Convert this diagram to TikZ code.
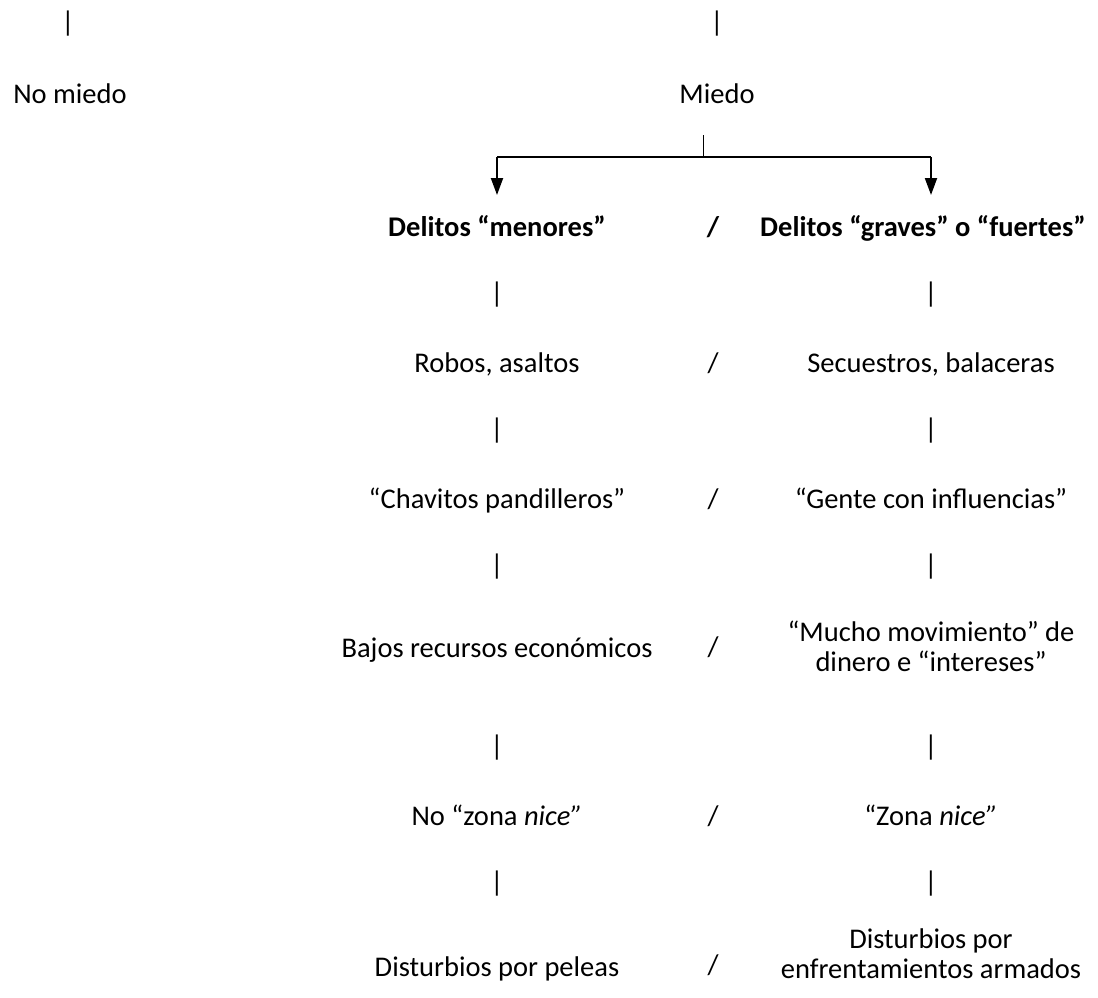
\documentclass[tikz,border=0pt]{standalone}
\usepackage{fontspec}
\setmainfont{Carlito}
\usetikzlibrary{arrows.meta}
\begin{document}
\begin{tikzpicture}[x=1pt,y=-1pt,
  txt/.style={inner sep=0pt,anchor=base,font=\fontsize{28.5}{30}\selectfont,align=center},
  bld/.style={txt,font=\fontsize{28.5}{30}\selectfont\bfseries},
  bar/.style={inner sep=0pt,font=\fontsize{28.5}{30}\selectfont},
  fork/.style={line width=2pt},
  arr/.style={line width=2pt,-{Triangle[width=12pt,length=17pt]}}]
\useasboundingbox (0,0) rectangle (1098,998);
% top
\node[bar] (b0l) at (68,24) {|};
\node[bar] (b0r) at (717,24) {|};
\node[txt] (nomiedo) at (70,103) {No miedo};
\node[txt] (miedo) at (717,103) {Miedo};
\coordinate (s1) at (703,135);
\coordinate (s2) at (703,157);
\coordinate (fl) at (497,157);
\coordinate (fr) at (931,157);
\coordinate (al) at (497,195);
\coordinate (ar) at (931,195);
\draw[line width=0.8pt] (s1) -- (s2);
\draw[fork] (s2) -- (fl);
\draw[fork] (s2) -- (fr);
\draw[arr] (fl) -- (al);
\draw[arr] (fr) -- (ar);
% row 1
\node[bld] (menores) at (497,236) {Delitos “menores”};
\node[bld] (sl1) at (713,236) {/};
\node[bld] (graves) at (923,236) {Delitos “graves” o “fuertes”};
\node[bar] (b1l) at (497,295) {|};
\node[bar] (b1r) at (931,295) {|};
% row 2
\node[txt] (robos) at (497,372) {Robos, asaltos};
\node[txt] (sl2) at (713,372) {/};
\node[txt] (secuestros) at (931,372) {Secuestros, balaceras};
\node[bar] (b2l) at (497,431) {|};
\node[bar] (b2r) at (931,431) {|};
% row 3
\node[txt] (chavitos) at (497,508) {“Chavitos pandilleros”};
\node[txt] (sl3) at (713,508) {/};
\node[txt] (gente) at (931,508) {“Gente con influencias”};
\node[bar] (b3l) at (497,567) {|};
\node[bar] (b3r) at (931,567) {|};
% row 4
\node[txt] (bajos) at (497,657) {Bajos recursos económicos};
\node[txt] (sl4) at (713,656) {/};
\node[txt] (mucho) at (931,671) {“Mucho movimiento” de\\dinero e “intereses”};
\node[bar] (b4l) at (497,748) {|};
\node[bar] (b4r) at (931,748) {|};
% row 5
\node[txt] (nozona) at (497,825) {No “zona \textit{nice”}};
\node[txt] (sl5) at (713,825) {/};
\node[txt] (zona) at (931,825) {“Zona \textit{nice”}};
\node[bar] (b5l) at (497,884) {|};
\node[bar] (b5r) at (931,884) {|};
% row 6
\node[txt] (peleas) at (497,976) {Disturbios por peleas};
\node[txt] (sl6) at (713,974) {/};
\node[txt] (armados) at (931,978) {Disturbios por\\enfrentamientos armados};
\end{tikzpicture}
\end{document}
